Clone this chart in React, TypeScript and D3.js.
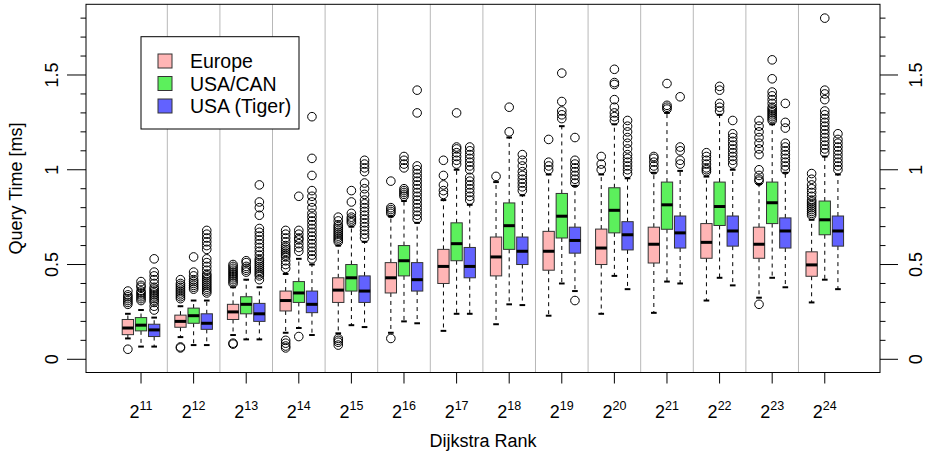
import React from "react";
import * as d3 from "d3";

// Categories (Dijkstra rank exponents)
const rankExponents = [11, 12, 13, 14, 15, 16, 17, 18, 19, 20, 21, 22, 23, 24];
const seriesNames = ["Europe", "USA/CAN", "USA (Tiger)"];
const seriesColors = ["#ffb5b5", "#5cf05c", "#6262ff"];

// [lower whisker, Q1, median, Q3, upper whisker] per rank
const europeStats = [
  [0.11, 0.13, 0.165, 0.21, 0.24],
  [0.117, 0.169, 0.2, 0.233, 0.28],
  [0.128, 0.21, 0.25, 0.29, 0.38],
  [0.14, 0.255, 0.31, 0.36, 0.45],
  [0.137, 0.3, 0.365, 0.43, 0.6],
  [0.14, 0.35, 0.43, 0.51, 0.755],
  [0.15, 0.4, 0.49, 0.58, 0.84],
  [0.185, 0.44, 0.54, 0.645, 0.935],
  [0.23, 0.47, 0.57, 0.675, 0.975],
  [0.24, 0.5, 0.587, 0.687, 0.975],
  [0.245, 0.508, 0.607, 0.697, 0.984],
  [0.31, 0.533, 0.617, 0.716, 0.964],
  [0.325, 0.533, 0.607, 0.697, 0.925],
  [0.3, 0.438, 0.498, 0.567, 0.736],
];
const usaCanStats = [
  [0.067, 0.15, 0.18, 0.22, 0.26],
  [0.075, 0.19, 0.23, 0.27, 0.31],
  [0.105, 0.24, 0.29, 0.33, 0.42],
  [0.165, 0.3, 0.35, 0.41, 0.53],
  [0.18, 0.36, 0.43, 0.5, 0.7],
  [0.2, 0.44, 0.52, 0.6, 0.835],
  [0.24, 0.52, 0.61, 0.72, 1.0],
  [0.29, 0.58, 0.705, 0.825, 1.17],
  [0.4, 0.64, 0.755, 0.875, 1.23],
  [0.44, 0.667, 0.786, 0.905, 1.24],
  [0.41, 0.686, 0.815, 0.935, 1.3],
  [0.43, 0.706, 0.806, 0.935, 1.29],
  [0.43, 0.716, 0.826, 0.935, 1.24],
  [0.42, 0.657, 0.736, 0.835, 1.07],
];
const tigerStats = [
  [0.067, 0.12, 0.155, 0.185, 0.22],
  [0.075, 0.158, 0.19, 0.24, 0.31],
  [0.105, 0.2, 0.24, 0.295, 0.38],
  [0.128, 0.246, 0.29, 0.36, 0.5],
  [0.17, 0.3, 0.36, 0.44, 0.62],
  [0.19, 0.36, 0.42, 0.51, 0.72],
  [0.24, 0.43, 0.49, 0.59, 0.815],
  [0.286, 0.5, 0.57, 0.645, 0.865],
  [0.36, 0.56, 0.627, 0.697, 0.915],
  [0.37, 0.577, 0.657, 0.726, 0.955],
  [0.4, 0.587, 0.667, 0.756, 0.994],
  [0.39, 0.597, 0.677, 0.756, 1.0],
  [0.38, 0.587, 0.677, 0.746, 0.984],
  [0.37, 0.597, 0.677, 0.756, 0.975],
];

// Outliers per rank
const europeOutliers = [
  [0.053, 0.29, 0.3, 0.31, 0.32, 0.33, 0.34, 0.36],
  [0.06, 0.065, 0.32, 0.33, 0.34, 0.35, 0.36, 0.37, 0.38, 0.39, 0.4, 0.42],
  [0.08, 0.085, 0.4, 0.41, 0.42, 0.43, 0.44, 0.45, 0.46, 0.47, 0.48, 0.49, 0.5],
  [0.06, 0.07, 0.085, 0.1, 0.48, 0.5, 0.52, 0.54, 0.55, 0.56, 0.57, 0.58, 0.59, 0.6, 0.62, 0.64, 0.66, 0.68],
  [0.075, 0.09, 0.1, 0.11, 0.62, 0.63, 0.64, 0.65, 0.66, 0.67, 0.68, 0.69, 0.7, 0.71, 0.73, 0.75],
  [0.11, 0.77, 0.78, 0.79, 0.8, 0.94],
  [0.87, 0.89, 0.92, 0.97, 1.05],
  [0.965],
  [1.0, 1.02, 1.04, 1.16],
  [1.0, 1.03, 1.07],
  [1.0, 1.02, 1.04, 1.06, 1.07],
  [0.99, 1.0, 1.01, 1.03, 1.05, 1.07, 1.09],
  [0.29, 0.94, 0.95, 0.97, 1.0, 1.08, 1.11, 1.14, 1.17, 1.2, 1.23, 1.26],
  [0.76, 0.77, 0.78, 0.79, 0.8, 0.81, 0.82, 0.83, 0.84, 0.86, 0.88, 0.9, 0.92, 0.95, 0.98],
];
const usaCanOutliers = [
  [0.31, 0.32, 0.33, 0.34, 0.35, 0.36, 0.38, 0.39, 0.41],
  [0.37, 0.38, 0.39, 0.4, 0.41, 0.42, 0.44, 0.46, 0.54],
  [0.46, 0.47, 0.48, 0.49, 0.51, 0.52],
  [0.12, 0.57, 0.59, 0.61, 0.63, 0.64, 0.66, 0.68, 0.86],
  [0.72, 0.73, 0.74, 0.75, 0.77, 0.83, 0.89],
  [0.86, 0.87, 0.88, 0.89, 0.9, 1.01, 1.03, 1.05, 1.07],
  [1.03, 1.05, 1.07, 1.09, 1.11, 1.12, 1.3],
  [1.2, 1.33],
  [1.27, 1.29, 1.31, 1.36, 1.51],
  [1.26, 1.28, 1.3, 1.33, 1.37, 1.45, 1.46, 1.53],
  [1.32, 1.33, 1.34, 1.455],
  [1.31, 1.33, 1.35, 1.42, 1.44],
  [1.26, 1.27, 1.28, 1.29, 1.3, 1.31, 1.32, 1.33, 1.35, 1.37, 1.39, 1.41, 1.48, 1.58],
  [1.09, 1.11, 1.13, 1.15, 1.17, 1.19, 1.21, 1.23, 1.25, 1.27, 1.29, 1.31, 1.37, 1.4, 1.42, 1.8],
];
const tigerOutliers = [
  [0.26, 0.28, 0.3, 0.31, 0.32, 0.33, 0.34, 0.35, 0.36, 0.37, 0.38, 0.4, 0.42, 0.44, 0.46, 0.53],
  [0.35, 0.36, 0.37, 0.38, 0.39, 0.4, 0.41, 0.42, 0.43, 0.44, 0.45, 0.47, 0.49, 0.51, 0.53, 0.58, 0.6, 0.62, 0.64, 0.66, 0.68],
  [0.42, 0.44, 0.45, 0.46, 0.47, 0.48, 0.49, 0.5, 0.51, 0.52, 0.53, 0.55, 0.57, 0.59, 0.61, 0.63, 0.65, 0.67, 0.69, 0.76, 0.8, 0.83, 0.92],
  [0.53, 0.55, 0.57, 0.59, 0.61, 0.63, 0.65, 0.67, 0.69, 0.71, 0.73, 0.75, 0.77, 0.8, 0.83, 0.86, 0.89, 0.97, 1.06, 1.28],
  [0.64, 0.66, 0.68, 0.7, 0.72, 0.74, 0.76, 0.78, 0.8, 0.82, 0.84, 0.87, 0.9, 0.93, 0.99, 1.01, 1.03, 1.05],
  [0.74, 0.76, 0.78, 0.8, 0.82, 0.84, 0.86, 0.88, 0.9, 0.92, 0.94, 0.96, 0.98, 1.0, 1.02, 1.3, 1.42],
  [0.84, 0.86, 0.88, 0.9, 0.92, 0.94, 0.96, 1.0, 1.02, 1.04, 1.06, 1.08, 1.1, 1.12],
  [0.89, 0.91, 0.93, 0.95, 0.97, 0.99, 1.02, 1.05, 1.08],
  [0.31, 0.93, 0.95, 0.97, 0.99, 1.01, 1.03, 1.05, 1.17],
  [0.98, 1.0, 1.02, 1.04, 1.06, 1.08, 1.11, 1.14, 1.17, 1.2, 1.23, 1.26],
  [1.03, 1.05, 1.1, 1.12, 1.385],
  [1.03, 1.05, 1.07, 1.09, 1.11, 1.13, 1.15, 1.17, 1.19, 1.26],
  [1.0, 1.02, 1.04, 1.06, 1.08, 1.1, 1.12, 1.14, 1.22, 1.25, 1.35],
  [1.0, 1.02, 1.04, 1.06, 1.08, 1.1, 1.12, 1.14, 1.16, 1.19],
];

const yMajorTicks = [0, 0.5, 1, 1.5];
const yMinorTicks = [0.1, 0.2, 0.3, 0.4, 0.6, 0.7, 0.8, 0.9, 1.1, 1.2, 1.3, 1.4, 1.6, 1.7, 1.8];

const allStats = [europeStats, usaCanStats, tigerStats];
const allOutliers = [europeOutliers, usaCanOutliers, tigerOutliers];
const seriesOffsets = [-0.25, 0, 0.25];

const W = 927;
const H = 459;
const L = 86, R = 880, T = 4.3, B = 372.5;
const FONT = "'Liberation Sans', Arial, Helvetica, sans-serif";

export default function App() {
  const x = d3.scaleLinear().domain([-0.046, 15.05]).range([L, R]);
  const y = d3.scaleLinear().domain([-0.0697, 1.873]).range([B, T]);
  const boxW = x(0.215) - x(0);
  const stapleW = boxW * 0.5;

  const boxes: React.ReactNode[] = [];
  allStats.forEach((stats, s) => {
    stats.forEach((st, i) => {
      const cx = x(i + 1 + seriesOffsets[s]);
      const [lw, q1, med, q3, uw] = st;
      boxes.push(
        <g key={`b${s}-${i}`}>
          <line x1={cx} x2={cx} y1={y(q3)} y2={y(uw)} stroke="#000" strokeDasharray="4,4" />
          <line x1={cx} x2={cx} y1={y(q1)} y2={y(lw)} stroke="#000" strokeDasharray="4,4" />
          <line x1={cx - stapleW / 2} x2={cx + stapleW / 2} y1={y(uw)} y2={y(uw)} stroke="#000" strokeWidth={2} />
          <line x1={cx - stapleW / 2} x2={cx + stapleW / 2} y1={y(lw)} y2={y(lw)} stroke="#000" strokeWidth={2} />
          <rect x={cx - boxW / 2} y={y(q3)} width={boxW} height={y(q1) - y(q3)} fill={seriesColors[s]} stroke="#333" strokeWidth={1} />
          <line x1={cx - boxW / 2} x2={cx + boxW / 2} y1={y(med)} y2={y(med)} stroke="#000" strokeWidth={3} />
          {allOutliers[s][i].map((v, k) => (
            <circle key={k} cx={cx} cy={y(v)} r={4.3} fill="none" stroke="#000" strokeWidth={1} />
          ))}
        </g>
      );
    });
  });

  const separators = rankExponents.slice(1).map((_, i) => (
    <line key={`sep${i}`} x1={x(i + 1.5)} x2={x(i + 1.5)} y1={T} y2={B} stroke="#b8b8b8" strokeWidth={1} />
  ));

  return (
    <svg width={W} height={H} style={{ position: "absolute", left: 0, top: 0, background: "#fff" }} fontFamily={FONT}>
      <rect x={0} y={0} width={W} height={H} fill="#fff" />
      {separators}
      {boxes}
      <rect x={L} y={T} width={R - L} height={B - T} fill="none" stroke="#000" strokeWidth={1} />

      {/* Left & right y axes */}
      {yMajorTicks.map((v) => (
        <g key={`ym${v}`}>
          <line x1={L - 19} x2={L} y1={y(v)} y2={y(v)} stroke="#000" />
          <line x1={R} x2={R + 18} y1={y(v)} y2={y(v)} stroke="#000" />
          <text transform={`translate(58,${y(v)}) rotate(-90)`} textAnchor="middle" fontSize={18}>{String(v)}</text>
          <text transform={`translate(922,${y(v)}) rotate(-90)`} textAnchor="middle" fontSize={18}>{String(v)}</text>
        </g>
      ))}
      {yMinorTicks.map((v) => (
        <g key={`yn${v}`}>
          <line x1={L - 5.5} x2={L} y1={y(v)} y2={y(v)} stroke="#000" />
          <line x1={R} x2={R + 5.5} y1={y(v)} y2={y(v)} stroke="#000" />
        </g>
      ))}

      {/* X axis */}
      {rankExponents.map((e, i) => (
        <g key={`xt${e}`}>
          <line x1={x(i + 1)} x2={x(i + 1)} y1={B} y2={B + 11} stroke="#000" />
          <text x={x(i + 1)} y={418} textAnchor="middle" fontSize={18}>
            <tspan>2</tspan>
            <tspan dy={-8} fontSize={12.5}>{e}</tspan>
          </text>
        </g>
      ))}
      <text x={(L + R) / 2} y={447} textAnchor="middle" fontSize={18}>Dijkstra Rank</text>
      <text transform={`translate(22,${(T + B) / 2}) rotate(-90)`} textAnchor="middle" fontSize={18}>Query Time [ms]</text>

      {/* Legend */}
      <rect x={141} y={36.7} width={158} height={92.3} fill="#fff" stroke="#000" />
      {seriesNames.map((n, k) => (
        <g key={n}>
          <rect x={158} y={61 + k * 22.5 - 7} width={14} height={14} fill={seriesColors[k]} stroke="#333" />
          <text x={190} y={61 + k * 22.5 + 7} fontSize={19.5}>{n}</text>
        </g>
      ))}
    </svg>
  );
}
